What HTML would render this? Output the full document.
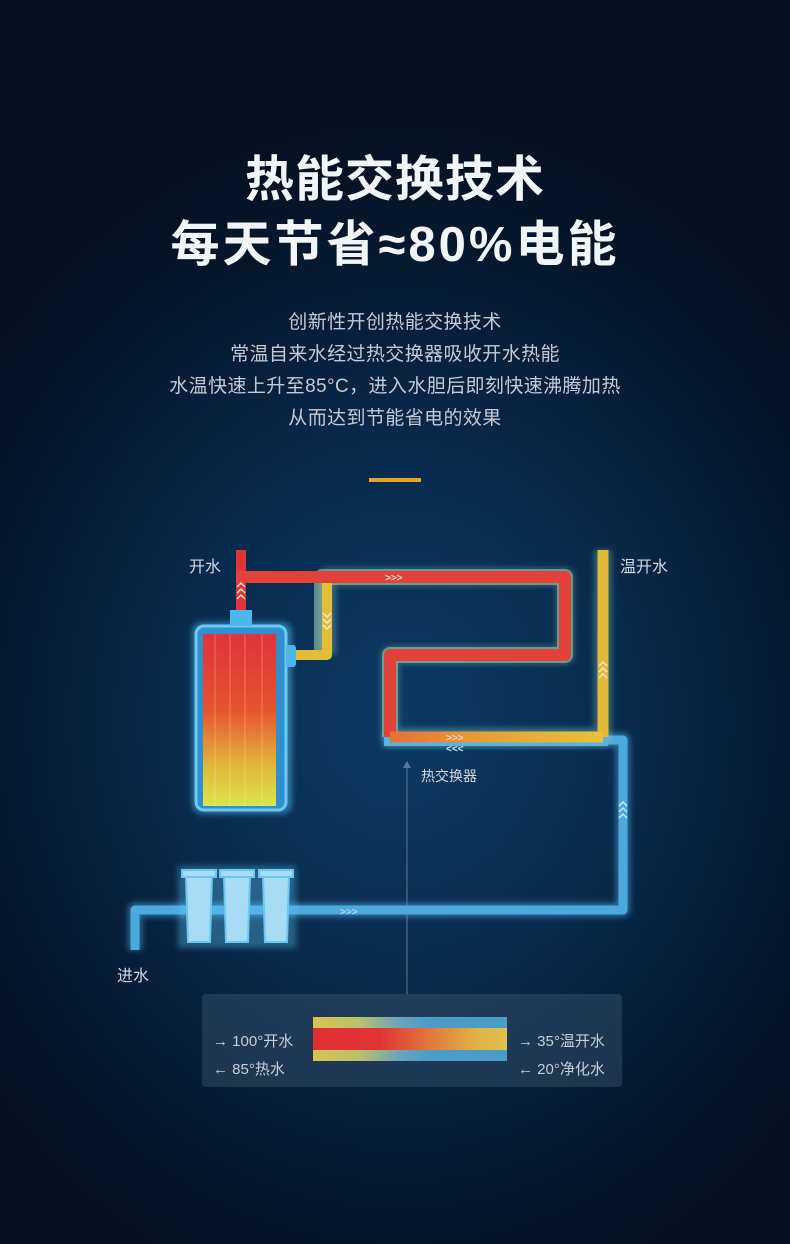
<!DOCTYPE html>
<html><head><meta charset="utf-8"><style>
html,body{margin:0;padding:0}
body{width:790px;height:1244px;overflow:hidden;position:relative;font-family:"Liberation Sans","Noto Sans CJK SC",sans-serif;
background:radial-gradient(ellipse 520px 600px at 400px 720px,#0b3a64 0%,#082a4c 45%,#061a31 75%,#050f1f 100%);}
.t{position:absolute;left:0;width:790px;text-align:center;color:#f1f5f8;font-weight:bold;font-size:49px;line-height:60px;letter-spacing:1px}
.p{position:absolute;left:0;width:790px;text-align:center;color:#c3cad3;font-size:19px;line-height:32px;letter-spacing:0.4px}
.lab{position:absolute;color:#d3d8de;font-size:16px}
</style></head><body>
<div class="t" style="top:150px">热能交换技术</div>
<div class="t" style="top:215px;letter-spacing:3px">每天节省≈80%电能</div>
<div class="p" style="top:307px">创新性开创热能交换技术<br>常温自来水经过热交换器吸收开水热能<br>水温快速上升至85°C，进入水胆后即刻快速沸腾加热<br>从而达到节能省电的效果</div>
<div style="position:absolute;left:369px;top:478px;width:52px;height:4px;background:#e0a82e"></div>

<svg width="790" height="1244" style="position:absolute;left:0;top:0">
<defs>
<filter id="g" x="-20%" y="-20%" width="140%" height="140%"><feGaussianBlur stdDeviation="3"/></filter>
<linearGradient id="tank" x1="0" y1="0" x2="0" y2="1"><stop offset="0" stop-color="#e0343a"/><stop offset="0.45" stop-color="#e6552f"/><stop offset="0.75" stop-color="#e3b23a"/><stop offset="1" stop-color="#d9e64a"/></linearGradient>
<linearGradient id="bot" gradientUnits="userSpaceOnUse" x1="390" y1="0" x2="603" y2="0"><stop offset="0" stop-color="#e8703a"/><stop offset="0.4" stop-color="#e89a35"/><stop offset="1" stop-color="#e8c23a"/></linearGradient>
</defs>
<line x1="407" y1="765" x2="407" y2="994" stroke="#5a7a98" stroke-width="1"/>
<path d="M403 768 L407 761 L411 768 Z" fill="#5a7a98"/>
<g fill="none" stroke-linejoin="round" stroke-linecap="butt">
<path d="M384 740 L623 740 L623 910 L135 910 L135 950" stroke="#4fb6ee" stroke-width="14" opacity="0.5" filter="url(#g)"/>
<path d="M384 740 L623 740 L623 910 L135 910 L135 950" stroke="#4ca9dc" stroke-width="9"/>
<path d="M327 655 L327 577 L565 577 L565 655 L390 655 L390 737 L603 737 L603 550" stroke="#88d0c0" stroke-width="18" opacity="0.35" filter="url(#g)"/>
<path d="M384 739 L608 739" stroke="#5ab4e0" stroke-width="14"/>
<path d="M322 655 L322 577 L565 577 L565 655 L390 655 L390 737" stroke="#9fd0a8" stroke-width="16" opacity="0.55"/>
<path d="M290 655 L327 655 L327 577 L345 577" stroke="#e2bd38" stroke-width="10"/>
<path d="M603 550 L603 737" stroke="#e2b838" stroke-width="11"/>
<path d="M241 550 L241 612" stroke="#e03538" stroke-width="10"/>
<path d="M236 577 L565 577 L565 655 L390 655 L390 737" stroke="#e2423a" stroke-width="12"/>
<path d="M390 737 L603 737" stroke="url(#bot)" stroke-width="11"/>
</g>
<g fill="#f0d8d0" font-size="10" font-family="Liberation Sans" font-weight="bold">
<text x="385" y="581">&gt;&gt;&gt;</text>
<text x="446" y="741">&gt;&gt;&gt;</text>
<text x="446" y="752" fill="#d0e0f0">&lt;&lt;&lt;</text>
<text x="340" y="915" fill="#b8d8f0">&gt;&gt;&gt;</text>
</g>
<g fill="none" stroke="#f4e6d0" stroke-width="1.5">
<path d="M237 587 l4 -4 l4 4 M237 593 l4 -4 l4 4 M237 599 l4 -4 l4 4"/>
<path d="M323 613 l4 4 l4 -4 M323 619 l4 4 l4 -4 M323 625 l4 4 l4 -4"/>
<path d="M599 666 l4 -4 l4 4 M599 672 l4 -4 l4 4 M599 678 l4 -4 l4 4"/>
<path d="M619 806 l4 -4 l4 4 M619 812 l4 -4 l4 4 M619 818 l4 -4 l4 4" stroke="#d0e6f6"/>
</g>
<rect x="192" y="622" width="100" height="192" rx="10" fill="#4fc0f5" opacity="0.5" filter="url(#g)"/>
<rect x="196" y="626" width="90" height="184" rx="8" fill="#2f8fcf" stroke="#6cc8f3" stroke-width="3"/>
<rect x="203" y="634" width="73" height="172" fill="url(#tank)"/>
<g stroke="#ffffff" stroke-opacity="0.25" stroke-width="1"><line x1="215" y1="634" x2="215" y2="806"/><line x1="230" y1="634" x2="230" y2="806"/><line x1="245" y1="634" x2="245" y2="806"/><line x1="262" y1="634" x2="262" y2="806"/></g>
<rect x="230" y="610" width="22" height="16" fill="#4fb6ea"/>
<rect x="286" y="645" width="10" height="22" rx="3" fill="#4fb6ea"/>
<rect x="178" y="866" width="118" height="82" fill="#5fc6f6" opacity="0.35" filter="url(#g)"/>
<g fill="#a8dcf4" stroke="#6cc6f2" stroke-width="2">
<rect x="182" y="870" width="34" height="7"/><rect x="220" y="870" width="34" height="7"/><rect x="259" y="870" width="34" height="7"/>
<path d="M186 877 L212 877 L210 942 L188 942 Z"/><path d="M224 877 L250 877 L248 942 L226 942 Z"/><path d="M263 877 L289 877 L287 942 L265 942 Z"/>
</g>
</svg>

<div class="lab" style="left:189px;top:553px">开水</div>
<div class="lab" style="left:620px;top:553px">温开水</div>
<div class="lab" style="left:421px;top:766px;font-size:14px">热交换器</div>
<div class="lab" style="left:117px;top:962px">进水</div>

<div style="position:absolute;left:202px;top:994px;width:420px;height:93px;border-radius:4px;background:rgba(60,85,110,0.45)"></div>
<div style="position:absolute;left:313px;top:1017px;width:194px;height:11px;background:linear-gradient(90deg,#d8c24c,#b5c070 25%,#6aa3bb 45%,#4b9cc8 60%,#4b9cc8)"></div>
<div style="position:absolute;left:313px;top:1028px;width:194px;height:22px;background:linear-gradient(90deg,#e03033,#e03434 35%,#e0843e 65%,#e0b248 85%,#ddc24a)"></div>
<div style="position:absolute;left:313px;top:1050px;width:194px;height:11px;background:linear-gradient(90deg,#d8c24c,#b5c070 25%,#6aa3bb 45%,#4b9cc8 60%,#4b9cc8)"></div>
<div class="lab" style="left:213px;top:1030px;font-size:15px;color:#c8ced6">→ 100°开水</div>
<div class="lab" style="left:213px;top:1058px;font-size:15px;color:#c8ced6">← 85°热水</div>
<div class="lab" style="left:518px;top:1030px;font-size:15px;color:#c8ced6">→ 35°温开水</div>
<div class="lab" style="left:518px;top:1058px;font-size:15px;color:#c8ced6">← 20°净化水</div>
</body></html>
